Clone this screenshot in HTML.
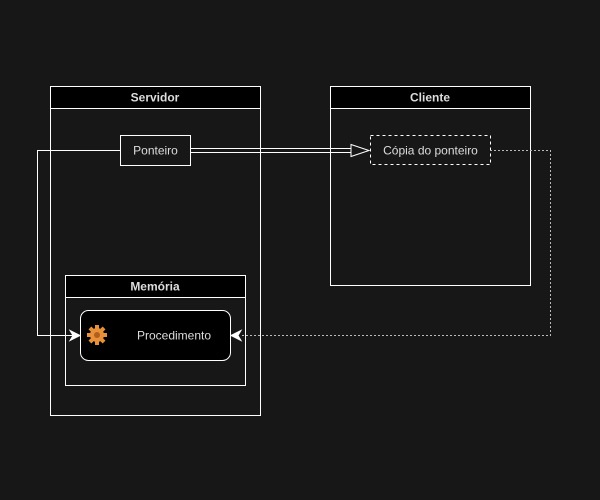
<!DOCTYPE html>
<html><head><style>body{margin:0;background:#171717;}svg{display:block}</style></head><body>
<svg width="600" height="500" xmlns="http://www.w3.org/2000/svg" font-family="Liberation Sans, sans-serif" font-size="12">
<rect width="600" height="500" fill="#171717"/>
<!-- Servidor -->
<rect x="50.5" y="86.5" width="210" height="329" fill="none" stroke="#fff"/>
<rect x="50.5" y="86.5" width="210" height="22" fill="#000" stroke="#fff"/>
<text x="155" y="101.5" fill="#ddd" text-anchor="middle" font-weight="bold">Servidor</text>
<!-- Cliente -->
<rect x="330.5" y="86.5" width="200" height="199" fill="none" stroke="#fff"/>
<rect x="330.5" y="86.5" width="200" height="22" fill="#000" stroke="#fff"/>
<text x="430" y="101.5" fill="#ddd" text-anchor="middle" font-weight="bold">Cliente</text>
<!-- Memoria -->
<rect x="65.5" y="275.5" width="180" height="110" fill="none" stroke="#fff"/>
<rect x="65.5" y="275.5" width="180" height="22" fill="#000" stroke="#fff"/>
<text x="155" y="290.5" fill="#ddd" text-anchor="middle" font-weight="bold">Memória</text>
<!-- connectors -->
<polyline points="120,150.5 37.5,150.5 37.5,335.5 74,335.5" fill="none" stroke="#fff"/>
<path d="M80,335.5 L70,330.5 L73,335.5 L70,340.5 Z" fill="#fff" stroke="#fff"/>
<polyline points="490,150.5 550.5,150.5 550.5,335.5 240,335.5" fill="none" stroke="#bbb" stroke-dasharray="2,2"/>
<path d="M231,335.5 L241,330.5 L238,335.5 L241,340.5 Z" fill="#fff" stroke="#fff"/>
<line x1="191" y1="148.5" x2="352" y2="148.5" stroke="#fff"/>
<line x1="191" y1="152.5" x2="352" y2="152.5" stroke="#fff"/>
<path d="M351,144.5 L369,150.5 L351,156.5 Z" fill="#171717" stroke="#fff"/>
<!-- Ponteiro -->
<rect x="120.5" y="135.5" width="70" height="30" fill="#171717" stroke="#fff"/>
<text x="155.5" y="154.5" fill="#ddd" text-anchor="middle">Ponteiro</text>
<!-- Copia -->
<rect x="370.5" y="135.5" width="120" height="29" fill="#171717" stroke="#fff" stroke-dasharray="3,3"/>
<text x="430.5" y="154.5" fill="#ddd" text-anchor="middle">Cópia do ponteiro</text>
<!-- Procedimento -->
<rect x="80.5" y="310.5" width="150" height="50" rx="8" fill="#000" stroke="#fff"/>
<g transform="translate(97,335)">
<circle r="7" fill="#e8913a"/>
<g fill="#e8913a"><rect x="-2" y="-10" width="4" height="20"/><rect x="-10" y="-2" width="20" height="4"/><rect x="-2" y="-10" width="4" height="20" transform="rotate(45)"/><rect x="-2" y="-10" width="4" height="20" transform="rotate(-45)"/></g>
<circle r="3" fill="#b0601c"/>
</g>
<text x="174" y="339.5" fill="#ddd" text-anchor="middle">Procedimento</text>
</svg>
</body></html>
